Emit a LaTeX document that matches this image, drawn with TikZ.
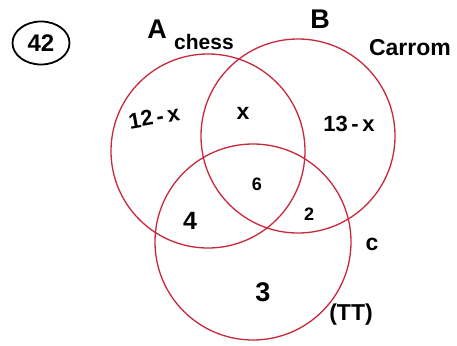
\documentclass[tikz,border=0pt]{standalone}
\usepackage{fontspec}
\setmainfont{Liberation Sans}
\usetikzlibrary{shapes.geometric}
\definecolor{vennred}{RGB}{200,40,60}
\begin{document}
\begin{tikzpicture}[x=1pt,y=-1pt,
  setc/.style={draw=vennred, line width=1.3pt, circle, minimum size=194pt, inner sep=0pt},
  txt/.style={inner sep=0pt, font=\fontsize{#1}{#1}\selectfont\bfseries}]
\useasboundingbox (0,0) rectangle (457,345);
\fill[white] (0,0) rectangle (457,345);
% sets
\node[setc] (A) at (208,151) {};
\node[setc] (B) at (298,136) {};
\node[setc, minimum size=196pt] (C) at (253,242) {};
% question number
\node[draw=black, line width=1.8pt, ellipse, minimum width=57pt, minimum height=43pt, inner sep=0pt, txt=24] (q) at (41,43) {42};
% set names
\node[txt=27] (la) at (157,29) {A};
\node[txt=21] (lchess) at (204,42) {chess};
\node[txt=27] (lb) at (320,19) {B};
\node[txt=23] (lcarrom) at (410,48) {Carrom};
\node[txt=23] (lc) at (372,244) {c};
\node[txt=23] (ltt) at (351,315) {(TT)};
% regions
\node[txt=22, rotate=10] (r1) at (154,117) {12\,-\,x};
\node[txt=23] (r2) at (243,113) {x};
\node[txt=22] (r3) at (349,124) {13\,-\,x};
\node[txt=18] (r4) at (257,184) {6};
\node[txt=25] (r5) at (190,221) {4};
\node[txt=18] (r6) at (309,214) {2};
\node[txt=27] (r7) at (263,292) {3};
\end{tikzpicture}
\end{document}
